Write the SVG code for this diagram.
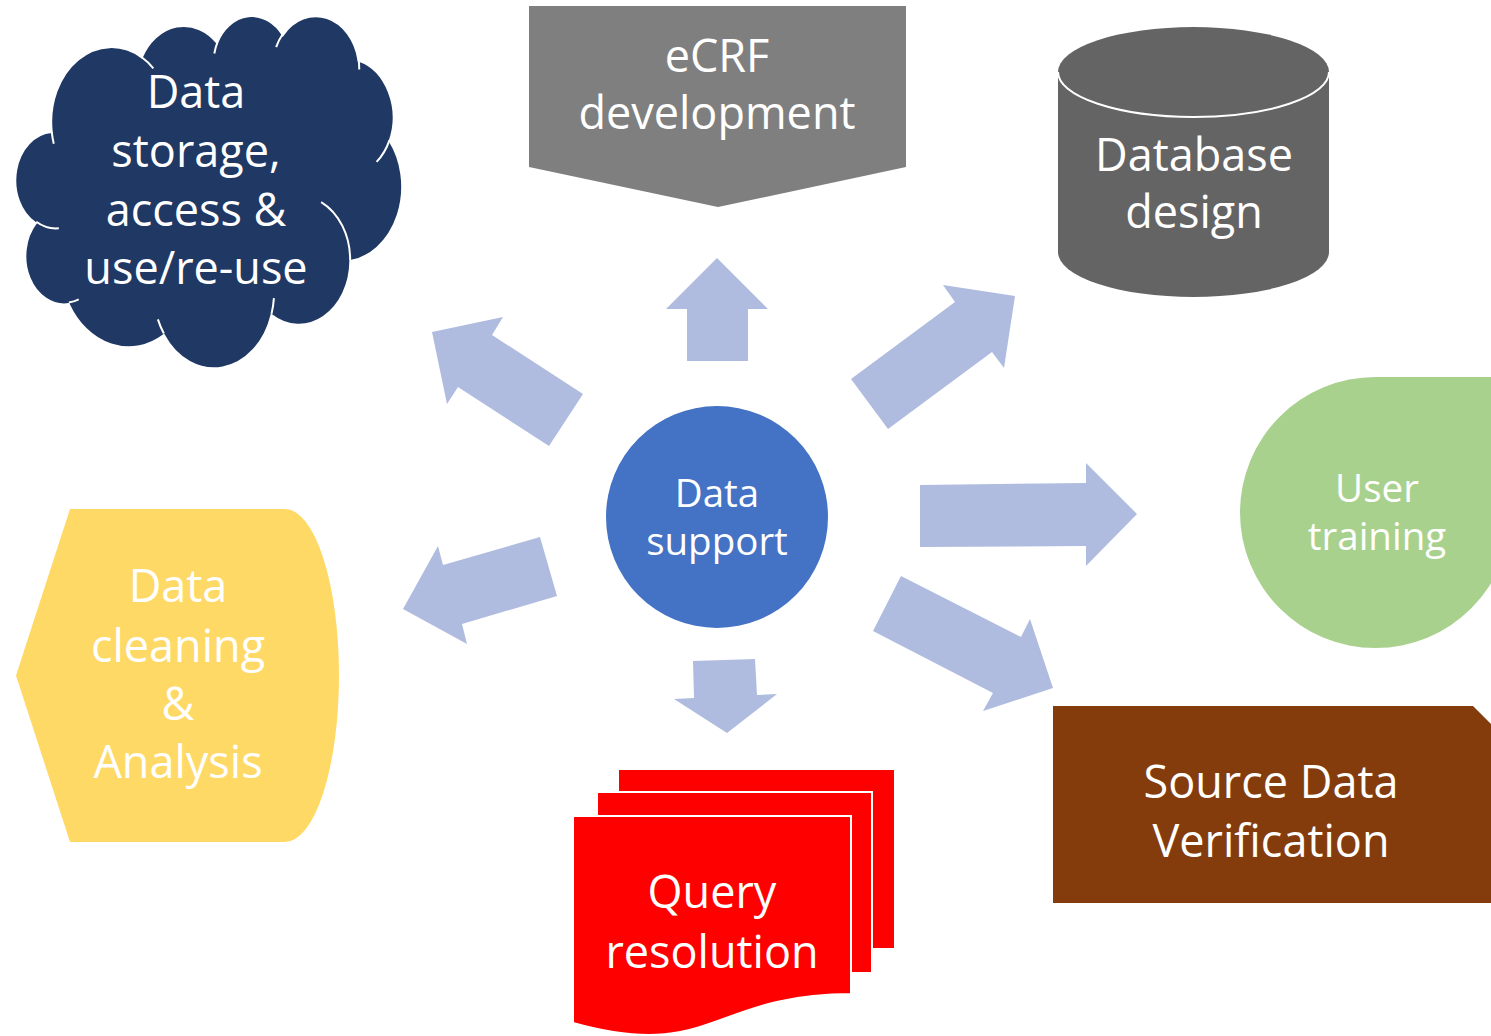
<svg xmlns="http://www.w3.org/2000/svg" width="1491" height="1036" viewBox="0 0 1491 1036">
<style>
.t { font-family: "Open Sans", "Liberation Sans", sans-serif; fill: #ffffff; text-anchor: middle; }
.big { font-size: 45px; }
.mid { font-size: 38.5px; }
.arrow { fill: #afbcdf; }
.inner { fill: none; stroke: #ffffff; stroke-width: 2; vector-effect: non-scaling-stroke; }
</style>
<rect width="1491" height="1036" fill="#ffffff"/>

<g id="connectors">
  <polygon class="arrow" points="432,332 503,317 492,335 583,394 549,446 458,387 447,404"/>
  <polygon class="arrow" points="717,258 768,309 748,309 748,361 687,361 687,309 666,309"/>
  <polygon class="arrow" points="851,379 955,302 943,285 1015,296 1004,368 992,352 888,429"/>
  <polygon class="arrow" points="920,485 1086,483 1086,463 1137,514 1086,566 1086,546 920,547"/>
  <polygon class="arrow" points="540,537 557,596 462,624 467,644 403,609 438,546 443,565"/>
  <polygon class="arrow" points="693,661 755,659 757,695 777,694 727,733 674,699 694,698"/>
  <polygon class="arrow" points="901,576 1021,637 1030,619 1053,688 983,711 993,693 873,631"/>
</g>

<g id="node-cloud">
  <g transform="translate(17,15) scale(0.008912,0.0081481)">
    <path fill="#203864" stroke="#ffffff" stroke-width="2" vector-effect="non-scaling-stroke" d="M 3900 14370 A 6753 9190 0 0 1 14004.8 5202 A 5333 7267 0 0 1 22456 3430 A 4365 5945 0 0 1 29833.2 2478.8 A 4857 6595 0 0 1 38317.3 5575.6 A 5333 7273 0 0 1 41817.7 15459.5 A 6775 9220 0 0 1 37403.4 30202.7 A 5785 7867 0 0 1 28555.2 36813.1 A 6752 9215 0 0 1 16480.1 39265.5 A 7720 10543 0 0 1 5805.8 35475.5 A 4360 5918 0 0 1 2114.4 25553.5 A 4345 5945 0 0 1 3900 14370 Z"/>
    <path class="inner" d="M 4693 26177 A 4345 5945 0 0 1 2159.9 25380.1 M 6928 34899 A 4360 5918 0 0 1 5819.6 35280.4 M 16478 39090 A 6752 9215 0 0 1 15809.7 37349.3 M 28827 34751 A 6752 9215 0 0 1 28560.5 36659.7 M 34129 22954 A 5785 7867 0 0 1 37380.7 30089.8 M 41798 15354 A 5333 7273 0 0 1 40349.1 18030.9 M 38324 5426 A 4857 6595 0 0 1 38400.4 6689.6 M 29078 3952 A 4857 6595 0 0 1 29821 2338 M 22141 4720 A 4365 5945 0 0 1 22500.2 3330.1 M 14000 5192 A 6753 9190 0 0 1 15300.2 6540.6 M 4127 15789 A 6753 9190 0 0 1 3900.4 14371.2"/>
  </g>
  <text class="t big" x="196" y="108">Data</text>
  <text class="t big" x="196" y="167">storage,</text>
  <text class="t big" x="196" y="226">access &amp;</text>
  <text class="t big" x="196" y="284">use/re-use</text>
</g>

<g id="node-ecrf">
  <polygon fill="#7f7f7f" points="529,6 906,6 906,167 718,207 529,167"/>
  <text class="t" font-size="45" x="717" y="72">eCRF</text>
  <text class="t" font-size="45" x="717" y="129">development</text>
</g>

<g id="node-database">
  <path fill="#646464" d="M 1058 72 A 135.5 45 0 0 1 1329 72 L 1329 252 A 135.5 45 0 0 1 1058 252 Z"/>
  <path fill="none" stroke="#ffffff" stroke-width="2" d="M 1058 72 A 135.5 45 0 0 0 1329 72"/>
  <text class="t big" x="1194" y="171">Database</text>
  <text class="t big" x="1194" y="228">design</text>
</g>

<g id="node-support">
  <circle cx="717" cy="517" r="111" fill="#4472c4"/>
  <text class="t mid" x="717" y="507">Data</text>
  <text class="t mid" x="717" y="555">support</text>
</g>

<g id="node-training">
  <path fill="#a9d18e" d="M 1240 512.5 A 135.5 135.5 0 0 1 1375.5 377 L 1511 377 L 1511 512.5 A 135.5 135.5 0 0 1 1375.5 648 A 135.5 135.5 0 0 1 1240 512.5 Z"/>
  <text class="t mid" x="1377" y="502">User</text>
  <text class="t mid" x="1377" y="550">training</text>
</g>

<g id="node-cleaning">
  <path fill="#ffd966" d="M 16 675.5 L 70 509 L 285 509 A 54 166.5 0 0 1 285 842 L 70 842 Z"/>
  <text class="t big" x="178" y="602">Data</text>
  <text class="t big" x="178" y="662">cleaning</text>
  <text class="t big" x="178" y="720">&amp;</text>
  <text class="t big" x="178" y="778">Analysis</text>
</g>

<g id="node-query">
  <rect x="618" y="769" width="277" height="180" fill="#ff0000" stroke="#ffffff" stroke-width="2"/>
  <rect x="597" y="792" width="275" height="181" fill="#ff0000" stroke="#ffffff" stroke-width="2"/>
  <path fill="#ff0000" stroke="#ffffff" stroke-width="2" d="M 573 816 L 851 816 L 851 994 C 712 994 712 1062 573 1023 Z"/>
  <text class="t big" x="712" y="908">Query</text>
  <text class="t big" x="712" y="968">resolution</text>
</g>

<g id="node-sdv">
  <path fill="#843c0c" d="M 1053 706 L 1473 706 L 1510 743 L 1510 903 L 1053 903 Z"/>
  <text class="t big" x="1271" y="798">Source Data</text>
  <text class="t big" x="1271" y="857">Verification</text>
</g>
</svg>
